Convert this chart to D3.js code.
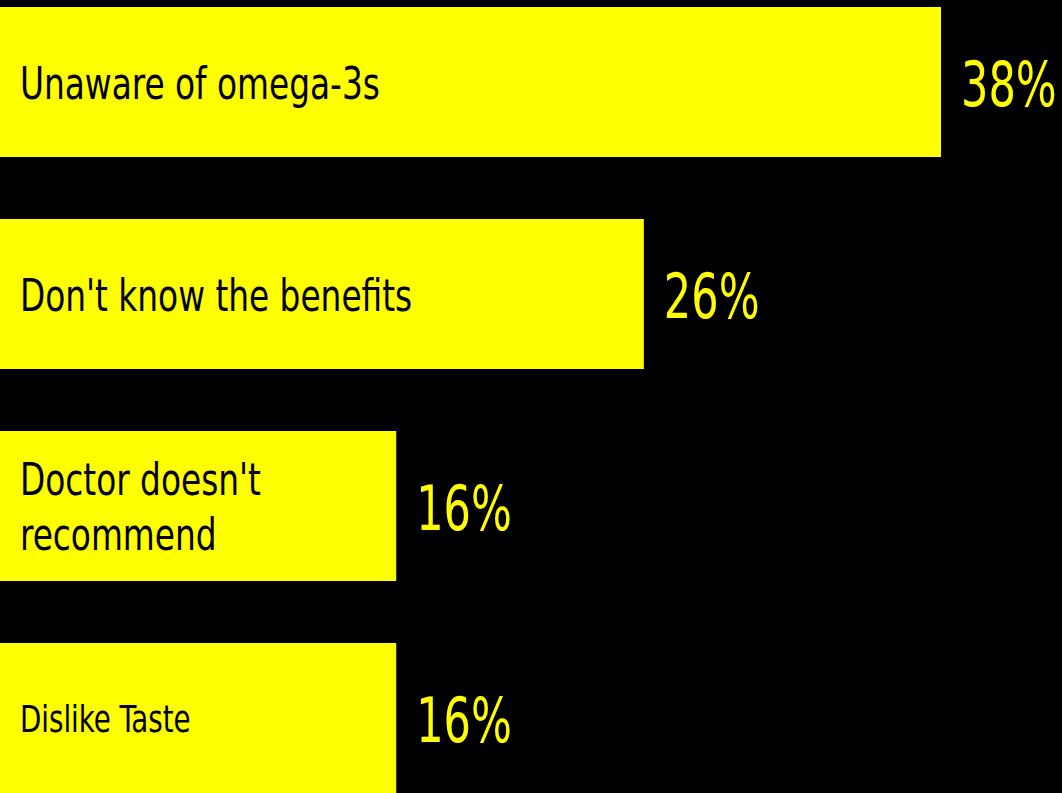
<!DOCTYPE html>
<html>
<head>
<meta charset="utf-8">
<script src="https://cdn.jsdelivr.net/npm/d3@7"></script>
<style>
  html, body { margin: 0; padding: 0; background: #000; overflow: hidden; }
  svg { display: block; }
  .label, .value { font-family: "DejaVu Sans Condensed", "DejaVu Sans", sans-serif; }
</style>
</head>
<body>
<svg id="chart" width="1062" height="793"></svg>
<script>
// Reasons for not taking omega-3 supplements (share of respondents)
const categories = ["Unaware of omega-3s", "Don't know the benefits", "Doctor doesn't recommend", "Dislike Taste"];
const values = [38, 26, 16, 16];

const width = 1062, height = 793;
const barColor = "#ffff00";
const labelSize = { "Dislike Taste": 38 };   // smaller label text for this one
const defaultLabelSize = 45;
const valueSize = 63;
const labelSqueeze = 0.81;   // horizontal condensing of the label font
const valueSqueeze = 0.76;

const svg = d3.select("#chart");
svg.append("rect").attr("width", width).attr("height", height).attr("fill", "#000");

const x = d3.scaleLinear().domain([0, 38]).range([0, 941]);
const y = d3.scaleBand().domain(categories).range([7, 793])
  .paddingInner(62 / 212).paddingOuter(0);

const data = categories.map((c, i) => ({ cat: c, val: values[i] }));

const g = svg.selectAll("g.bar").data(data).join("g").attr("class", "bar");

g.append("rect")
  .attr("x", 0)
  .attr("y", d => y(d.cat))
  .attr("width", d => x(d.val))
  .attr("height", y.bandwidth())
  .attr("fill", barColor);

// category label inside the bar, wrapped to the bar width
g.each(function(d) {
  const sel = d3.select(this);
  const size = labelSize[d.cat] || defaultLabelSize;
  const maxW = x(d.val) - 40;
  const text = sel.append("g")
    .attr("transform", `translate(20,0) scale(${labelSqueeze},1)`)
    .append("text")
    .attr("class", "label")
    .attr("x", 0)
    .attr("fill", "#000")
    .style("font-size", size + "px");
  // greedy word wrap
  const words = d.cat.split(" ");
  const lines = [];
  let line = [];
  const probe = text.append("tspan");
  words.forEach(w => {
    const trial = line.concat(w).join(" ");
    probe.text(trial);
    if (probe.node().getComputedTextLength() * labelSqueeze > maxW && line.length) {
      lines.push(line.join(" "));
      line = [w];
    } else {
      line.push(w);
    }
  });
  lines.push(line.join(" "));
  probe.remove();
  const lh = size * 1.22;
  const cy = y(d.cat) + y.bandwidth() / 2;
  const first = cy - (lines.length - 1) * lh / 2;
  lines.forEach((l, i) => {
    text.append("tspan")
      .attr("x", 0)
      .attr("y", first + i * lh)
      .attr("dy", "0.37em")
      .text(l);
  });
});

g.append("g")
  .attr("transform", d => `translate(${x(d.val) + 20},${y(d.cat) + y.bandwidth() / 2}) scale(${valueSqueeze},1)`)
  .append("text")
  .attr("class", "value")
  .attr("dy", "0.38em")
  .attr("fill", barColor)
  .style("font-size", valueSize + "px")
  .text(d => d.val + "%");
</script>
</body>
</html>
